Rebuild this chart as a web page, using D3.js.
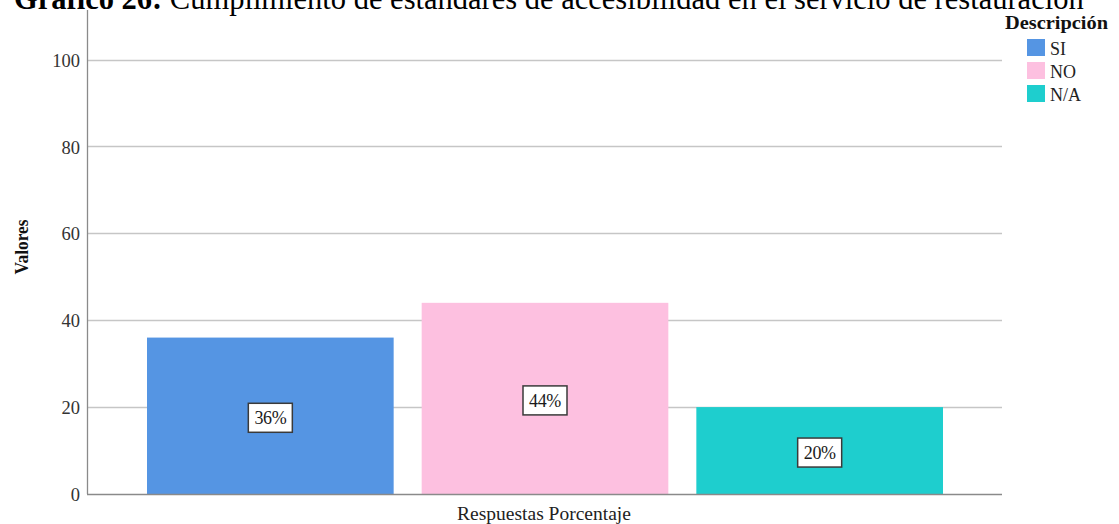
<!DOCTYPE html>
<html>
<head>
<meta charset="utf-8">
<script src="https://cdn.jsdelivr.net/npm/d3@7"></script>
<style>
  html, body { margin: 0; padding: 0; background: #fff; overflow: hidden; }
  svg { display: block; }
  text { font-family: "Liberation Serif", "Times New Roman", serif; }
</style>
</head>
<body>
<svg id="chart" width="1119" height="524"></svg>
<script>
// Survey answers (share of responses, %)
const categories = ["SI", "NO", "N/A"];
const values = [36, 44, 20];
const colors = ["#5595e3", "#fdc0e0", "#1ecece"];
const yTicks = [0, 20, 40, 60, 80, 100];
const groupLabel = "Respuestas Porcentaje";
const legendTitle = "Descripción";
const yTitle = "Valores";

const svg = d3.select("#chart");
const plot = { left: 87, right: 1002, top: 10, bottom: 494 };

const y = d3.scaleLinear().domain([0, 100]).range([plot.bottom, 59.5]);
const x = d3.scaleBand()
  .domain(categories)
  .range([plot.left + 60, plot.right - 59])
  .paddingInner(0.102)
  .paddingOuter(0);

// Title (runs above the top edge)
const title = svg.append("text")
  .attr("x", 14).attr("y", 9)
  .attr("font-size", 30.5)
  .attr("fill", "#000");
title.append("tspan").attr("font-weight", "bold").text("Gráfico 26:");
title.append("tspan").text(" Cumplimiento de estándares de accesibilidad en el servicio de restauración");

// Gridlines
svg.append("g")
  .selectAll("line")
  .data(yTicks.filter(d => d > 0))
  .join("line")
  .attr("x1", plot.left).attr("x2", plot.right)
  .attr("y1", d => Math.round(y(d)) + 0.5).attr("y2", d => Math.round(y(d)) + 0.5)
  .attr("stroke", "#c6c6c6").attr("stroke-width", 1.3);

// Bars
svg.append("g")
  .selectAll("rect")
  .data(categories)
  .join("rect")
  .attr("x", d => x(d))
  .attr("width", x.bandwidth())
  .attr("y", (d, i) => y(values[i]))
  .attr("height", (d, i) => y(0) - y(values[i]))
  .attr("fill", (d, i) => colors[i]);

// Axes
const yAxis = d3.axisLeft(y).tickValues(yTicks).tickSize(0).tickPadding(7).tickFormat(d3.format("d"));
const gy = svg.append("g").attr("transform", `translate(${plot.left},0)`).call(yAxis);
gy.select(".domain").remove();
gy.selectAll("text")
  .attr("font-family", "'Liberation Serif', 'Times New Roman', serif")
  .attr("font-size", 18.5)
  .attr("fill", "#333")
  .attr("dy", "0.36em");

svg.append("line")
  .attr("x1", plot.left + 0.5).attr("x2", plot.left + 0.5)
  .attr("y1", plot.top).attr("y2", y(0))
  .attr("stroke", "#8a8a8a").attr("stroke-width", 1.3);
svg.append("line")
  .attr("x1", plot.left).attr("x2", plot.right)
  .attr("y1", y(0) + 0.5).attr("y2", y(0) + 0.5)
  .attr("stroke", "#8a8a8a").attr("stroke-width", 1.5);

// Value labels in boxes
const fmt = d3.format(".0f");
const lab = svg.append("g")
  .selectAll("g")
  .data(categories)
  .join("g")
  .attr("transform", (d, i) => `translate(${x(d) + x.bandwidth() / 2},${(y(values[i]) + y(0)) / 2 + 2})`);
lab.append("rect")
  .attr("x", -22).attr("y", -14.5)
  .attr("width", 44).attr("height", 29)
  .attr("fill", "#fff")
  .attr("stroke", "#3a3a3a").attr("stroke-width", 1.5);
lab.append("text")
  .attr("text-anchor", "middle")
  .attr("dy", "0.36em")
  .attr("font-family", "'DejaVu Sans Condensed', 'DejaVu Sans', sans-serif")
  .attr("font-size", 18)
  .attr("letter-spacing", -0.4)
  .attr("fill", "#1a1a1a")
  .text((d, i) => fmt(values[i]) + "%");

// Axis titles
svg.append("text")
  .attr("x", 544).attr("y", 520)
  .attr("text-anchor", "middle")
  .attr("font-size", 19.5)
  .attr("fill", "#222")
  .text(groupLabel);

svg.append("text")
  .attr("transform", "translate(28,247) rotate(-90)")
  .attr("text-anchor", "middle")
  .attr("font-size", 19)
  .attr("font-weight", "bold")
  .attr("textLength", 55)
  .attr("lengthAdjust", "spacingAndGlyphs")
  .attr("fill", "#111")
  .text(yTitle);

// Legend
const lg = svg.append("g").attr("transform", "translate(1027,0)");
lg.append("text")
  .attr("x", 29.5).attr("y", 29)
  .attr("text-anchor", "middle")
  .attr("font-size", 18)
  .attr("font-weight", "bold")
  .attr("textLength", 103)
  .attr("lengthAdjust", "spacingAndGlyphs")
  .attr("fill", "#111")
  .text(legendTitle);
const items = lg.selectAll("g.item")
  .data(categories)
  .join("g")
  .attr("class", "item")
  .attr("transform", (d, i) => `translate(0,${39 + i * 23})`);
items.append("rect")
  .attr("width", 18).attr("height", 17)
  .attr("fill", (d, i) => colors[i]);
items.append("text")
  .attr("x", 23).attr("y", 16)
  .attr("font-size", 18)
  .attr("fill", "#222")
  .text(d => d);
</script>
</body>
</html>
